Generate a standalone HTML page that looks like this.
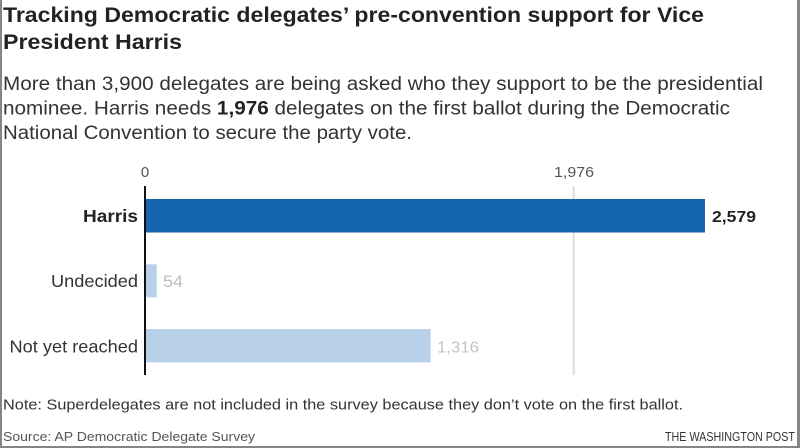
<!DOCTYPE html>
<html>
<head>
<meta charset="utf-8">
<style>
html,body{margin:0;padding:0;background:#fff;}
body{width:800px;height:448px;overflow:hidden;}
svg{display:block;}
text{font-family:"Liberation Sans",Arial,sans-serif;}
</style>
</head>
<body>
<svg width="800" height="448" viewBox="0 0 800 448" xmlns="http://www.w3.org/2000/svg">
  <rect x="0" y="0" width="800" height="448" fill="#fff"/>
  <!-- borders -->
  <rect x="0" y="0" width="2" height="448" fill="#858585"/>
  <rect x="797" y="0" width="3" height="448" fill="#858585"/>
  <rect x="0" y="446" width="800" height="2" fill="#858585"/>

  <!-- title -->
  <text x="3" y="22" font-size="21.5" font-weight="bold" fill="#222" textLength="701" lengthAdjust="spacingAndGlyphs">Tracking Democratic delegates’ pre-convention support for Vice</text>
  <text x="3" y="49" font-size="21.5" font-weight="bold" fill="#222" textLength="179" lengthAdjust="spacingAndGlyphs">President Harris</text>

  <!-- subtitle -->
  <text x="3" y="90" font-size="19" fill="#333" textLength="760" lengthAdjust="spacingAndGlyphs">More than 3,900 delegates are being asked who they support to be the presidential</text>
  <text x="3" y="114.5" font-size="19" fill="#333" textLength="727" lengthAdjust="spacingAndGlyphs">nominee. Harris needs <tspan font-weight="bold" fill="#222">1,976</tspan> delegates on the first ballot during the Democratic</text>
  <text x="3" y="139" font-size="19" fill="#333" textLength="409" lengthAdjust="spacingAndGlyphs">National Convention to secure the party vote.</text>

  <!-- axis labels -->
  <text x="145" y="177" font-size="15" fill="#555" text-anchor="middle">0</text>
  <text x="574" y="177" font-size="15" fill="#555" text-anchor="middle" textLength="40" lengthAdjust="spacingAndGlyphs">1,976</text>

  <!-- gridline -->
  <rect x="572.7" y="186" width="2" height="189" fill="#dcdcdc"/>

  <!-- bars -->
  <rect x="145" y="199" width="560" height="33.5" fill="#1565b0"/>
  <rect x="145" y="264.3" width="11.7" height="33" fill="#b8d0e8"/>
  <rect x="145" y="329" width="285.6" height="33.3" fill="#b8d0e8"/>

  <!-- axis line -->
  <rect x="144" y="186" width="2" height="189" fill="#111"/>

  <!-- category labels -->
  <text x="138" y="222" font-size="17.5" font-weight="bold" fill="#222" text-anchor="end" textLength="55" lengthAdjust="spacingAndGlyphs">Harris</text>
  <text x="138" y="287" font-size="17.5" fill="#333" text-anchor="end" textLength="87" lengthAdjust="spacingAndGlyphs">Undecided</text>
  <text x="138" y="352.5" font-size="17.5" fill="#333" text-anchor="end" textLength="128.5" lengthAdjust="spacingAndGlyphs">Not yet reached</text>

  <!-- value labels -->
  <text x="712" y="222" font-size="16" font-weight="bold" fill="#222" textLength="44" lengthAdjust="spacingAndGlyphs">2,579</text>
  <text x="163" y="287" font-size="17" fill="#bdbdbd" textLength="20" lengthAdjust="spacingAndGlyphs">54</text>
  <text x="437" y="352.5" font-size="16" fill="#c4c4c4" textLength="42" lengthAdjust="spacingAndGlyphs">1,316</text>

  <!-- note -->
  <text x="3" y="409.5" font-size="15" fill="#333" textLength="680" lengthAdjust="spacingAndGlyphs">Note: Superdelegates are not included in the survey because they don’t vote on the first ballot.</text>
  <text x="3" y="441" font-size="13" fill="#555" textLength="252" lengthAdjust="spacingAndGlyphs">Source: AP Democratic Delegate Survey</text>
  <text x="795" y="441" font-size="12.5" fill="#333" text-anchor="end" textLength="130" lengthAdjust="spacingAndGlyphs">THE WASHINGTON POST</text>
</svg>
</body>
</html>
